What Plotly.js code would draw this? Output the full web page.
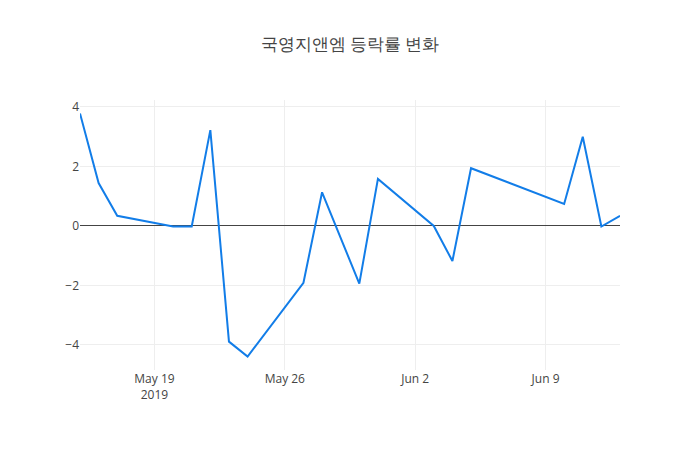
<!DOCTYPE html>
<html>
<head>
<meta charset="utf-8">
<script src="https://cdn.plot.ly/plotly-3.0.1.min.js"></script>
<style>
  body { margin: 0; }
  #plot { width: 700px; height: 450px; }
</style>
</head>
<body>
<div id="plot"></div>
<script>
// trading days and daily change (%)
var dates = [
  '2019-05-15', '2019-05-16', '2019-05-17',
  '2019-05-20', '2019-05-21', '2019-05-22', '2019-05-23', '2019-05-24',
  '2019-05-27', '2019-05-28', '2019-05-30', '2019-05-31',
  '2019-06-03', '2019-06-04', '2019-06-05',
  '2019-06-10', '2019-06-11', '2019-06-12', '2019-06-13'
];
var changes = [
  3.78, 1.44, 0.34,
  -0.02, -0.02, 3.22, -3.89, -4.39,
  -1.91, 1.13, -1.94, 1.58,
  0, -1.18, 1.94,
  0.74, 3.0, -0.02, 0.34
];
var chartTitle = '국영지앤엠 등락률 변화';

var trace = {
  x: dates,
  y: changes,
  type: 'scatter',
  mode: 'lines',
  line: {color: '#127de8', width: 2}
};

var layout = {
  width: 700,
  height: 450,
  title: {text: chartTitle, font: {size: 17, color: '#444'}},
  showlegend: false,
  xaxis: {type: 'date', gridcolor: '#eee'},
  yaxis: {zeroline: true, zerolinecolor: '#444', zerolinewidth: 1, gridcolor: '#eee'},
  plot_bgcolor: '#fff',
  paper_bgcolor: '#fff'
};

Plotly.newPlot('plot', [trace], layout, {displayModeBar: false});
</script>
</body>
</html>
